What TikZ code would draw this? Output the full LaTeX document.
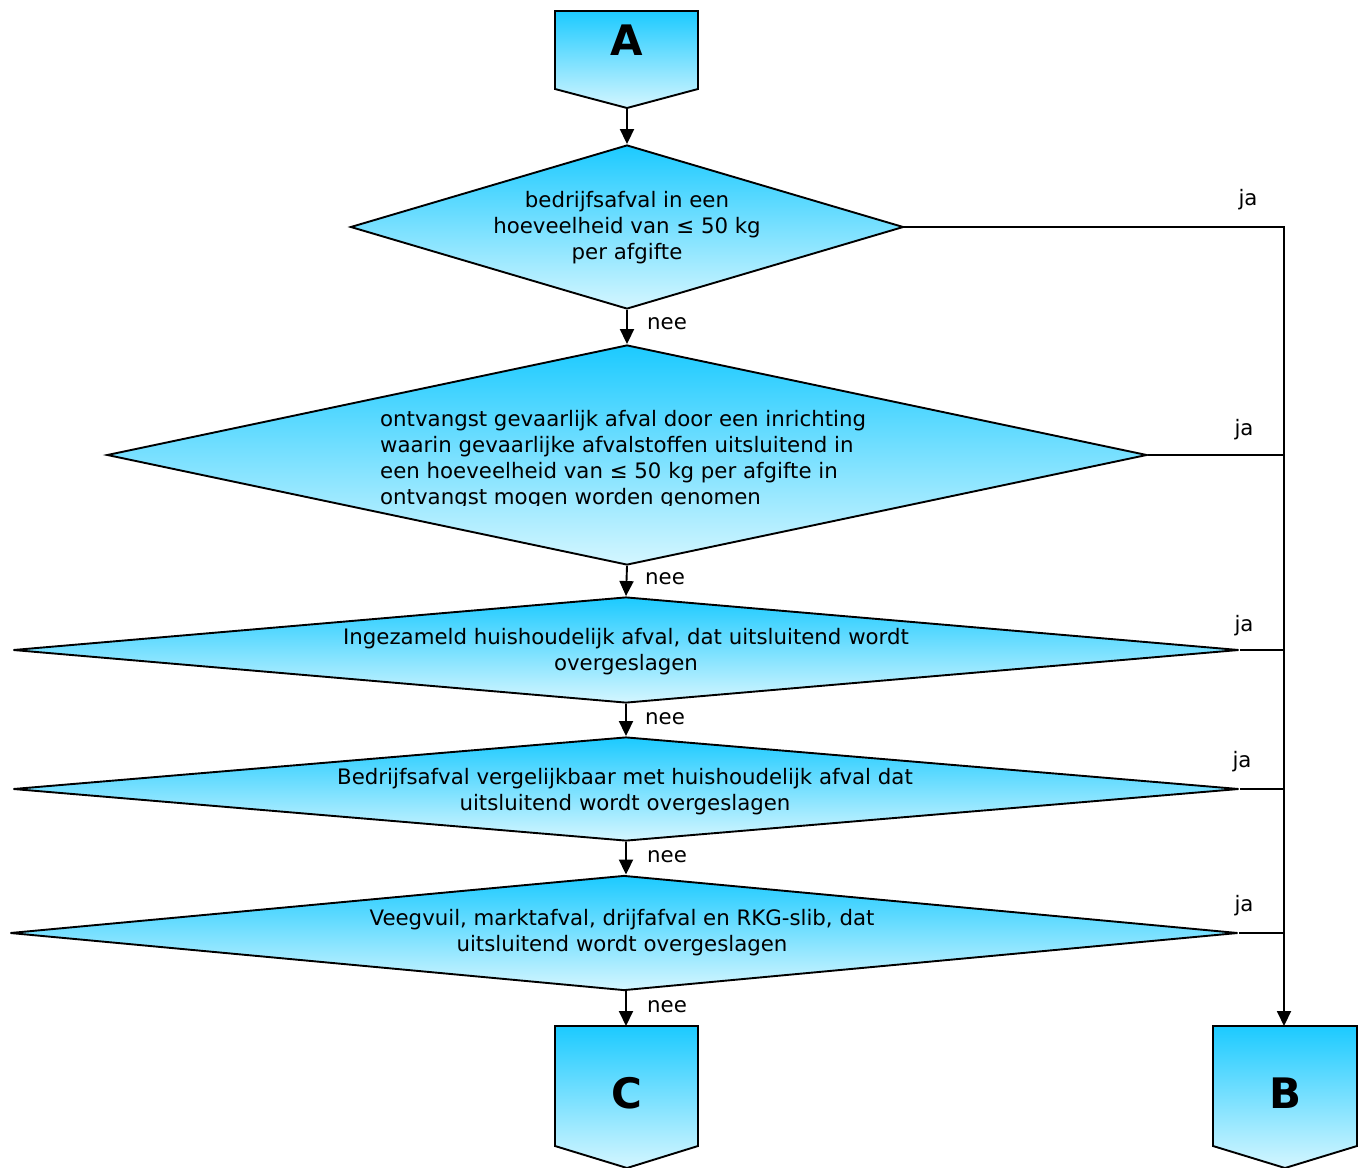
\documentclass[tikz,border=0pt]{standalone}
\usepackage{fontspec}
\setmainfont{DejaVu Sans}
\usetikzlibrary{shapes.geometric,arrows.meta}
\definecolor{topc}{RGB}{28,202,255}
\definecolor{botc}{RGB}{212,246,255}
\tikzset{
  fillgrad/.style={top color=topc, bottom color=botc, draw=black, line width=1.9pt},
  dia/.style={shape=diamond, fillgrad, inner sep=0pt},
  conn/.style={line width=1.9pt, -{Triangle[length=15pt,width=14pt]}},
  plain/.style={line width=1.9pt},
  txt/.style={font=\fontsize{21.3}{26}\selectfont, inner sep=0pt, align=center},
  lab/.style={font=\fontsize{21.3}{26}\selectfont, inner sep=0pt},
  big/.style={font=\fontsize{42}{42}\selectfont\bfseries, inner sep=0pt}
}
\begin{document}
\begin{tikzpicture}[x=1pt,y=-1pt]
\useasboundingbox (0,0) rectangle (1365,1167);
% box A
\path[fillgrad] (555,11) -- (698,11) -- (698,89) -- (627,108) -- (555,89) -- cycle;
\node[big] (A) at (627,40) {A};
\coordinate (Abot) at (627,108);
% box C
\path[fillgrad] (555,1026) -- (698,1026) -- (698,1146) -- (627,1168) -- (555,1146) -- cycle;
\node[big] (C) at (627,1093) {C};
\coordinate (Ctop) at (626,1026);
% box B
\path[fillgrad] (1213,1026) -- (1357,1026) -- (1357,1146) -- (1285,1168) -- (1213,1146) -- cycle;
\node[big] (B) at (1285,1093) {B};
\coordinate (Btop) at (1284,1026);
% diamonds
\node[dia, minimum width=553pt, minimum height=164pt] (d1) at (627,227) {};
\node[txt] (t1) at (627,228) {bedrijfsafval in een\\hoeveelheid van ≤ 50 kg\\per afgifte};
\node[dia, minimum width=1040pt, minimum height=220pt] (d2) at (627,455) {};
\begin{scope}
\clip (100,380) rectangle (1150,505);
\node[txt, align=left, anchor=west] (t2) at (380,460) {ontvangst gevaarlijk afval door een inrichting\\waarin gevaarlijke afvalstoffen uitsluitend in\\een hoeveelheid van ≤ 50 kg per afgifte in\\ontvangst mogen worden genomen};
\end{scope}
\node[dia, minimum width=1226pt, minimum height=106pt] (d3) at (626,650) {};
\node[txt] (t3) at (626,652) {Ingezameld huishoudelijk afval, dat uitsluitend wordt\\overgeslagen};
\node[dia, minimum width=1226pt, minimum height=104pt] (d4) at (626,789) {};
\node[txt] (t4) at (625,792) {Bedrijfsafval vergelijkbaar met huishoudelijk afval dat\\uitsluitend wordt overgeslagen};
\node[dia, minimum width=1228pt, minimum height=115pt] (d5) at (624,933) {};
\node[txt] (t5) at (622,933) {Veegvuil, marktafval, drijfafval en RKG-slib, dat\\uitsluitend wordt overgeslagen};
% vertical connectors
\draw[conn] (Abot) -- (d1.north);
\draw[conn] (d1.south) -- (d2.north);
\draw[conn] (d2.south) -- (d3.north);
\draw[conn] (d3.south) -- (d4.north);
\draw[conn] (d4.south) -- (d4.south |- d5.north);
\draw[conn] (d5.south -| Ctop) -- (Ctop);
% right side
\draw[conn] (d1.east) -- (d1.east -| Btop) -- (Btop);
\draw[plain] (d2.east) -- (d2.east -| Btop);
\draw[plain] (d3.east) -- (d3.east -| Btop);
\draw[plain] (d4.east) -- (d4.east -| Btop);
\draw[plain] (d5.east) -- (d5.east -| Btop);
% labels
\node[lab] (ja1) at (1248,200) {ja};
\node[lab] (ja2) at (1244,430) {ja};
\node[lab] (ja3) at (1244,626) {ja};
\node[lab] (ja4) at (1242,762) {ja};
\node[lab] (ja5) at (1244,906) {ja};
\node[lab] (nee1) at (667,324) {nee};
\node[lab] (nee2) at (665,579) {nee};
\node[lab] (nee3) at (665,719) {nee};
\node[lab] (nee4) at (667,857) {nee};
\node[lab] (nee5) at (667,1007) {nee};
\end{tikzpicture}
\end{document}
